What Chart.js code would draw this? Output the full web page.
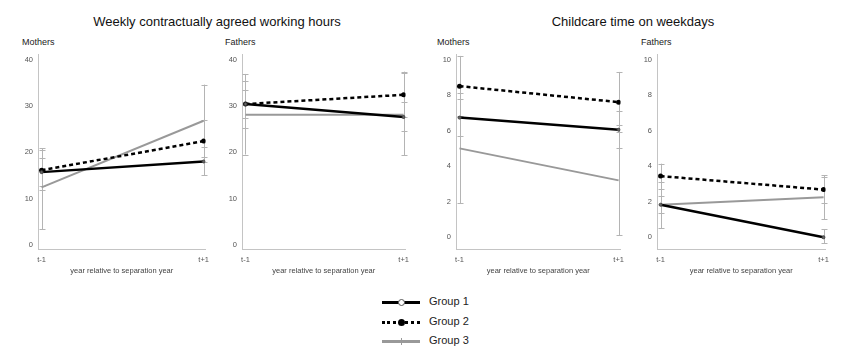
<!DOCTYPE html>
<html>
<head>
<meta charset="utf-8">
<script src="https://cdn.jsdelivr.net/npm/chart.js@4.4.0/dist/chart.umd.min.js"></script>
<style>
  body { margin: 0; background: #fff; font-family: "Liberation Sans", Arial, sans-serif; }
  #wrap { position: relative; width: 850px; height: 364px; overflow: hidden; }
  canvas { position: absolute; top: 45px; }
  .title { position: absolute; top: 14px; font-size: 13px; color: #111; white-space: nowrap; transform: translateX(-50%); }
  .plab { position: absolute; top: 37px; font-size: 9px; color: #222; }
  .leg { position: absolute; left: 382px; width: 38px; height: 0; }
  .legtxt { position: absolute; left: 429px; font-size: 11px; color: #222; }
  .mk { position: absolute; border-radius: 50%; }
</style>
</head>
<body>
<div id="wrap">
  <div class="title" style="left:217px">Weekly contractually agreed working hours</div>
  <div class="title" style="left:633px">Childcare time on weekdays</div>
  <div class="plab" style="left:22px">Mothers</div>
  <div class="plab" style="left:225px">Fathers</div>
  <div class="plab" style="left:437px">Mothers</div>
  <div class="plab" style="left:641px">Fathers</div>

  <canvas id="c1" width="215" height="230" style="left:0px"></canvas>
  <canvas id="c2" width="200" height="230" style="left:215px"></canvas>
  <canvas id="c3" width="205" height="230" style="left:425px"></canvas>
  <canvas id="c4" width="205" height="230" style="left:630px"></canvas>

  <div class="leg" style="top:301px; border-top:3px solid #000"></div>
  <div class="mk" style="left:398px; top:299px; width:5px; height:5px; background:#fff; border:1px solid #555"></div>
  <div class="legtxt" style="top:295px">Group 1</div>
  <div class="leg" style="top:321px; border-top:3px dotted #000"></div>
  <div class="mk" style="left:398px; top:319px; width:7px; height:7px; background:#000"></div>
  <div class="legtxt" style="top:315px">Group 2</div>
  <div class="leg" style="top:340px; border-top:3px solid #999"></div>
  <div class="mk" style="left:401px; top:338px; width:1px; height:7px; border-radius:0; background:#999"></div>
  <div class="legtxt" style="top:334px">Group 3</div>
</div>
<script>
var timeLabels = ['t-1', 't+1'];
var groupNames = ['Group 1', 'Group 2', 'Group 3'];
var workTicks = [0, 10, 20, 30, 40];
var careTicks = [0, 2, 4, 6, 8, 10];

// weekly contractually agreed working hours, mothers
var workMothers = [[15.7, 18.0], [16.1, 22.4], [12.4, 26.8]];
var workMothersLo = [[12.6, 15.0], [11.8, 17.9], [3.4, 19.0]];
var workMothersHi = [[18.8, 21.1], [20.4, 27.0], [20.9, 34.6]];

// weekly contractually agreed working hours, fathers
var workFathers = [[30.4, 27.6], [30.4, 32.4], [28.1, 28.1]];
var workFathersLo = [[25.3, 24.6], [27.3, 27.5], [19.5, 19.4]];
var workFathersHi = [[35.4, 30.8], [33.5, 37.4], [36.9, 37.0]];

// childcare time on weekdays, mothers
var careMothers = [[6.73, 6.05], [8.5, 7.6], [5.0, 3.2]];
var careMothersLo = [[5.7, 5.0], [6.8, 5.9], [1.9, 0.1]];
var careMothersHi = [[7.8, 7.1], [10.2, 9.3], [8.1, 6.3]];

// childcare time on weekdays, fathers
var careFathers = [[1.83, 0.0], [3.44, 2.68], [1.83, 2.25]];
var careFathersLo = [[1.36, -0.35], [2.7, 1.9], [0.5, 1.0]];
var careFathersHi = [[2.3, 0.45], [4.14, 3.48], [3.1, 3.4]];

var tickFont = { family: 'Liberation Sans, Arial, sans-serif', size: 7.5 };

var errorBars = {
	id: 'errorBars',
	beforeDatasetsDraw: function(chart) {
		var ctx = chart.ctx;
		var xs = chart.scales.x, ys = chart.scales.y;
		ctx.save();
		ctx.strokeStyle = '#b4b4b4';
		ctx.lineWidth = 1;
		chart.data.datasets.forEach(function(ds) {
			ds.data.forEach(function(p, i) {
				var x = Math.round(xs.getPixelForValue(p.x)) + 0.5;
				var y1 = ys.getPixelForValue(ds.lo[i]);
				var y2 = ys.getPixelForValue(ds.hi[i]);
				ctx.beginPath();
				ctx.moveTo(x, y1); ctx.lineTo(x, y2);
				ctx.moveTo(x - 3, Math.round(y1) + 0.5); ctx.lineTo(x + 3, Math.round(y1) + 0.5);
				ctx.moveTo(x - 3, Math.round(y2) + 0.5); ctx.lineTo(x + 3, Math.round(y2) + 0.5);
				ctx.stroke();
			});
		});
		ctx.restore();
	}
};

function makeDatasets(vals, lo, hi) {
	var styles = [
		{ borderColor: '#000', borderWidth: 2.5, pointRadius: 1.5, pointBackgroundColor: '#666', pointBorderColor: '#444', pointBorderWidth: 1 },
		{ borderColor: '#000', borderWidth: 2.5, borderDash: [4, 3], pointRadius: 2.5, pointBackgroundColor: '#000', pointBorderColor: '#000', pointBorderWidth: 0 },
		{ borderColor: '#999', borderWidth: 2, pointRadius: 0 }
	];
	return vals.map(function(v, g) {
		var s = styles[g];
		s.label = groupNames[g];
		s.data = v.map(function(y, i) { return { x: i, y: y }; });
		s.lo = lo[g];
		s.hi = hi[g];
		s.tension = 0;
		return s;
	});
}

function makePanel(id, vals, lo, hi, yTicks, yMin, yMax, yWidth, padRight) {
	new Chart(document.getElementById(id), {
		type: 'line',
		data: { datasets: makeDatasets(vals, lo, hi) },
		plugins: [errorBars],
		options: {
			responsive: false,
			animation: false,
			devicePixelRatio: 1,
			layout: { padding: { top: 3, right: padRight, left: 0, bottom: 0 } },
			plugins: { legend: { display: false }, tooltip: { enabled: false } },
			scales: {
				x: {
					type: 'linear', min: -0.022, max: 1.012,
					grid: { display: false, drawTicks: false, tickLength: 0 },
					border: { display: true, color: '#c4c4c4', width: 1 },
					afterBuildTicks: function(s) { s.ticks = timeLabels.map(function(t, i) { return { value: i }; }); },
					afterFit: function(s) { s.height = 26; },
					ticks: { font: tickFont, color: '#555', padding: 6, maxRotation: 0,
						callback: function(v) { return timeLabels[v]; } },
					title: { display: true, text: 'year relative to separation year', font: tickFont, color: '#444', padding: { top: 2, bottom: 0 } }
				},
				y: {
					min: yMin, max: yMax,
					grid: { display: false, drawTicks: false, tickLength: 0 },
					border: { display: true, color: '#c4c4c4', width: 1 },
					afterBuildTicks: function(s) { s.ticks = yTicks.map(function(v) { return { value: v }; }); },
					afterFit: function(s) { s.width = yWidth; },
					ticks: { font: tickFont, color: '#555', padding: 5 }
				}
			}
		}
	});
}

makePanel('c1', workMothers, workMothersLo, workMothersHi, workTicks, -0.9, 41.1, 38, 6);
makePanel('c2', workFathers, workFathersLo, workFathersHi, workTicks, -0.9, 41.1, 27, 5);
makePanel('c3', careMothers, careMothersLo, careMothersHi, careTicks, -0.66, 10.28, 31, 5);
makePanel('c4', careFathers, careFathersLo, careFathersHi, careTicks, -0.66, 10.28, 27, 9);
</script>
</body>
</html>
